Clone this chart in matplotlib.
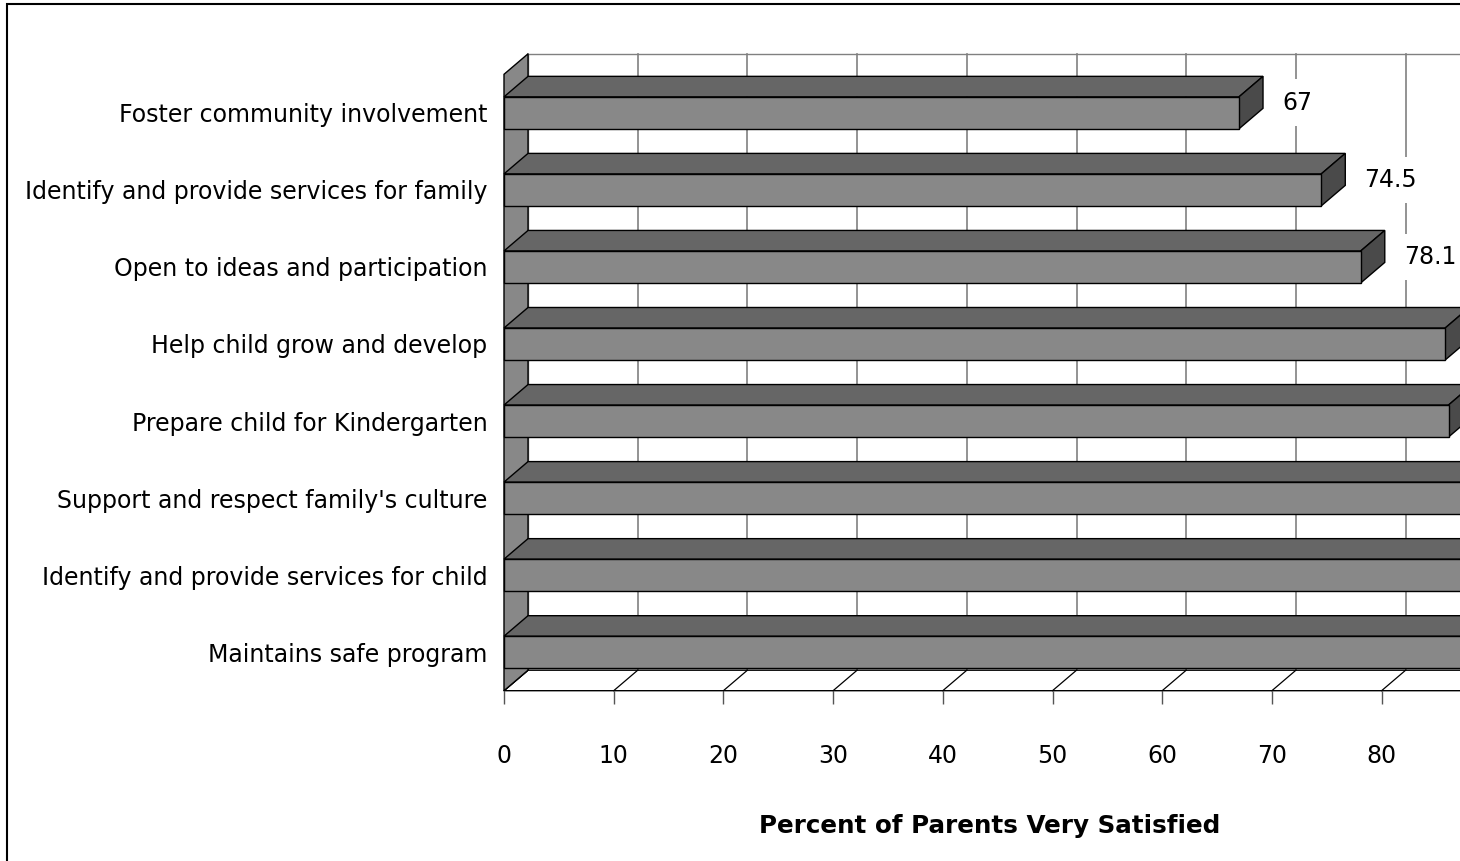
import matplotlib.pyplot as plt
from matplotlib.patches import Polygon, Rectangle

categories = [
    "Foster community involvement",
    "Identify and provide services for family",
    "Open to ideas and participation",
    "Help child grow and develop",
    "Prepare child for Kindergarten",
    "Support and respect family's culture",
    "Identify and provide services for child",
    "Maintains safe program",
]
values = [67, 74.5, 78.1, 85.8, 86.1, 88.5, 90.6, 93.4]
x_ticks = list(range(0, 101, 10))
x_title = "Percent of Parents Very Satisfied"

FRONT = "#888888"
TOP = "#666666"
SIDE = "#4a4a4a"
GRID = "#808080"
FS = 17

fig = plt.figure(figsize=(14.6, 8.61), dpi=100)
# plot area runs past the right edge of the canvas
left, width = 504 / 1460, 1097 / 1460
ax = fig.add_axes([left, 170.3 / 861, width, 616.4 / 861])
ax.set_xlim(0, 100)
ax.set_ylim(0, len(categories))
for s in ax.spines.values():
    s.set_visible(False)
# largest x value still on the canvas
x_visible = 100 * (1 - left) / width

# 3-D depth offset in data units
dx, dy = 2.19, 0.266
bar_h = 0.415
n = len(categories)
ymax = n
y_pos = [n - 0.5 - i for i in range(n)]

# back wall with gridlines
ax.add_patch(Rectangle((dx, dy), 100, ymax, fc="white", ec=GRID, lw=1,
                       zorder=1, clip_on=False))
for t in x_ticks:
    ax.plot([t + dx, t + dx], [dy, ymax + dy], color=GRID, lw=1.2,
            zorder=1.5, clip_on=False)

# floor
ax.add_patch(Polygon([(0, 0), (100, 0), (100 + dx, dy), (dx, dy)],
                     closed=True, fc="white", ec="black", lw=1,
                     zorder=2, clip_on=False))
for t in x_ticks:
    ax.plot([t, t + dx], [0, dy], color="black", lw=0.9, zorder=2.1,
            clip_on=False)

# left side wall
ax.add_patch(Polygon([(0, 0), (dx, dy), (dx, ymax + dy), (0, ymax)],
                     closed=True, fc=FRONT, ec="black", lw=1,
                     zorder=3, clip_on=False))

# bars: front faces, then top and end faces
ax.barh(y_pos, values, height=bar_h, color=FRONT, edgecolor="black",
        lw=1, zorder=6, clip_on=False)
for y, v in zip(y_pos, values):
    yt, yb = y + bar_h / 2, y - bar_h / 2
    ax.add_patch(Polygon([(0, yt), (v, yt), (v + dx, yt + dy), (dx, yt + dy)],
                         closed=True, fc=TOP, ec="black", lw=1,
                         zorder=5, clip_on=False))
    ax.add_patch(Polygon([(v, yb), (v, yt), (v + dx, yt + dy), (v + dx, yb + dy)],
                         closed=True, fc=SIDE, ec="black", lw=1,
                         zorder=5, clip_on=False))
    lx = v + dx + 1.73
    if lx + 2.5 < x_visible:
        ax.text(lx, y + dy / 2, f"{v:g}", ha="left", va="center",
                fontsize=FS, zorder=7, clip_on=False,
                bbox=dict(fc="white", ec="none", pad=8))

ax.set_yticks(y_pos, categories)
ax.tick_params(axis="y", length=0, pad=12, labelsize=FS)
ax.set_xticks([t for t in x_ticks if t + 1.5 < x_visible])
ax.tick_params(axis="x", length=9.4, width=1, color="#555555", pad=29,
               labelsize=FS)

fig.text(990 / 1460, 1 - 826 / 861, x_title, ha="center", va="center",
         fontsize=17.7, fontweight="bold")

# outer chart border (left and top edges fall on the canvas)
fig.patches.append(Rectangle((7 / 1460, -0.1), 1.2, 1.1 - 4 / 861,
                             transform=fig.transFigure, fill=False,
                             ec="black", lw=1.5))

fig.savefig("out.png", dpi=100)
